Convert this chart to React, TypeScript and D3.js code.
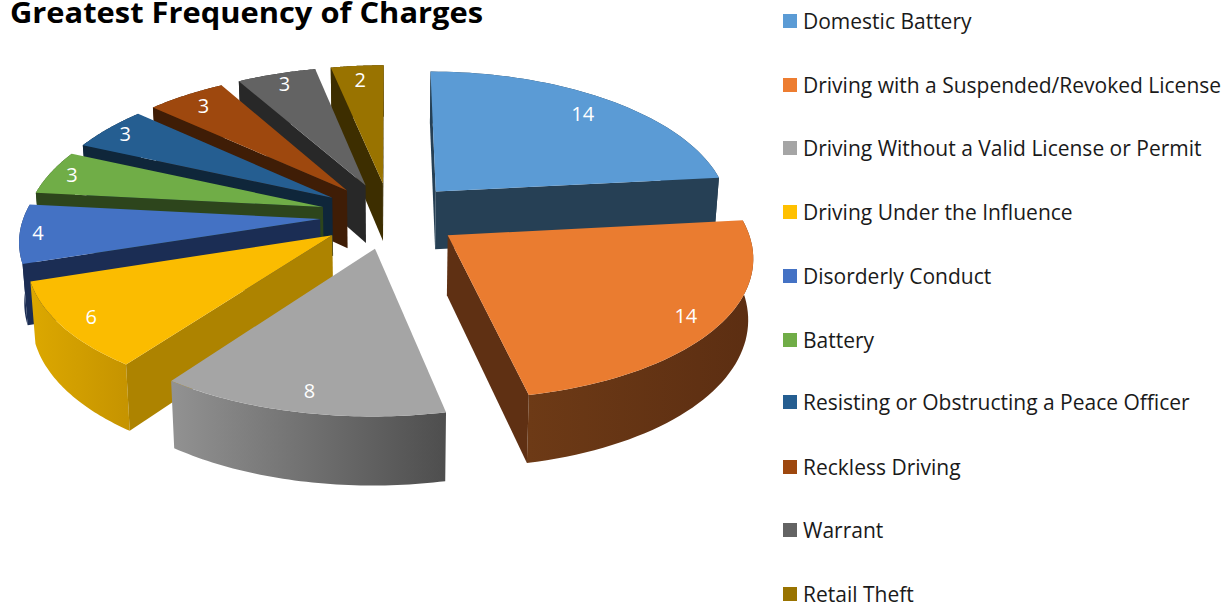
import React from "react";
import * as d3 from "d3";

const categories = [
  "Domestic Battery",
  "Driving with a Suspended/Revoked License",
  "Driving Without a Valid License or Permit",
  "Driving Under the Influence",
  "Disorderly Conduct",
  "Battery",
  "Resisting or Obstructing a Peace Officer",
  "Reckless Driving",
  "Warrant",
  "Retail Theft",
];
const values = [14, 14, 8, 6, 4, 3, 3, 3, 3, 2];
const topColors = ["#5B9BD5", "#EA7C30", "#A5A5A5", "#FBBC00", "#4472C4", "#70AD47", "#255E91", "#9E480E", "#636363", "#997300"];
const legendColors = ["#5B9BD5", "#ED7D31", "#A5A5A5", "#FFC000", "#4472C4", "#70AD47", "#255E91", "#9E480E", "#636363", "#997300"];
const sideColors = ["#264055", "#5F3013", "#4E4E4E", "#AD8300", "#1B2D54", "#2D451C", "#0F263A", "#3F1D06", "#282828", "#3D2E00"];
const rimLeftColors = ["#264055", "#6D3A16", "#929292", "#DCA800", "#1B2D54", "#2D451C", "#0F263A", "#3F1D06", "#282828", "#3D2E00"];
const rimRightColors = ["#264055", "#5C2E12", "#4E4E4E", "#C69400", "#1B2D54", "#2D451C", "#0F263A", "#3F1D06", "#282828", "#3D2E00"];
const labelFractions = [0.84, 0.89, 0.88, 0.9, 0.94, 0.92, 0.92, 0.88, 0.9, 0.87];
const legendRows = [21, 85, 148, 212, 276, 340, 402, 467, 530, 594];
const drawOrder = [9, 8, 7, 6, 5, 4, 3, 2, 0, 1];

const CX = 390, CY = 215.5, RADIUS = 296, EXPLODE = 70, DEPTH = 59;
const TILT = 0.471, PERSP_X = 0.00045, PERSP_Y = 0.0004, TAPER = 0.986;

type Pt = [number, number];
const project = (X: number, Y: number, down = false): Pt => {
  const sx = 1 / (1 - PERSP_X * Y);
  const sy = 1 / (1 - PERSP_Y * Y);
  const x = X * sx;
  const y = CY + TILT * Y * sy;
  return down ? [CX + x * TAPER, y + DEPTH * sy] : [CX + x, y];
};

const pieLayout = d3.pie<number>().sort(null).startAngle(0).endAngle(2 * Math.PI);
const arcs = pieLayout(values);
const closed = d3.line<Pt>().curve(d3.curveLinearClosed);

const wallFaces = (apex: Pt, end: Pt, inner: Pt) => {
  const ex = end[0] - apex[0], ey = end[1] - apex[1];
  const side = ex * (inner[1] - apex[1]) - ey * (inner[0] - apex[0]);
  return side * ex < 0;
};

function sliceGeometry(i: number) {
  const a = arcs[i];
  const mid = (a.startAngle + a.endAngle) / 2;
  const ox = EXPLODE * Math.sin(mid);
  const oy = -EXPLODE * Math.cos(mid);
  const at = (ang: number, r: number, down = false) =>
    project(ox + r * Math.sin(ang), oy - r * Math.cos(ang), down);
  const n = 48;
  const angles = d3.range(n + 1).map((k) => a.startAngle + ((a.endAngle - a.startAngle) * k) / n);
  const rimTop = angles.map((t) => at(t, RADIUS));
  const rimBottom = angles.map((t) => at(t, RADIUS, true));
  const apexTop = project(ox, oy);
  const apexBottom = project(ox, oy, true);
  const inner = rimTop[n >> 1];
  const walls: Pt[][] = [];
  if (wallFaces(apexTop, rimTop[0], inner)) walls.push([apexTop, rimTop[0], rimBottom[0], apexBottom]);
  if (wallFaces(apexTop, rimTop[n], inner)) walls.push([apexTop, rimTop[n], rimBottom[n], apexBottom]);
  return {
    top: [apexTop, ...rimTop] as Pt[],
    outer: [...rimTop, ...[...rimBottom].reverse()] as Pt[],
    walls,
    label: at(mid, RADIUS * labelFractions[i]),
    minX: d3.min(rimTop, (p) => p[0]) as number,
    maxX: d3.max(rimTop, (p) => p[0]) as number,
  };
}

export default function App() {
  const geoms = categories.map((_, i) => sliceGeometry(i));
  return (
    <svg width={1229} height={602} style={{ position: "absolute", left: 0, top: 0, background: "#fff" }}>
      <defs>
        {geoms.map((g, i) => (
          <linearGradient key={i} id={`rim${i}`} gradientUnits="userSpaceOnUse" x1={g.minX} x2={g.maxX} y1={0} y2={0}>
            <stop offset="0" stopColor={rimLeftColors[i]} />
            <stop offset="1" stopColor={rimRightColors[i]} />
          </linearGradient>
        ))}
      </defs>
      <text x={10} y={23} fontFamily="'Open Sans', sans-serif" fontWeight={700} fontSize={29} fill="#000" textLength={473} lengthAdjust="spacingAndGlyphs">
        Greatest Frequency of Charges
      </text>
      {drawOrder.map((i) => {
        const g = geoms[i];
        return (
          <g key={i}>
            <path d={closed(g.outer) as string} fill={`url(#rim${i})`} />
            {g.walls.map((w, k) => (
              <path key={k} d={closed(w) as string} fill={sideColors[i]} />
            ))}
            <path d={closed(g.top) as string} fill={topColors[i]} />
          </g>
        );
      })}
      {values.map((v, i) => (
        <text key={i} x={geoms[i].label[0]} y={geoms[i].label[1]} dy="0.36em" textAnchor="middle" fontFamily="'Open Sans', sans-serif" fontSize={20} fill="#fff">
          {v}
        </text>
      ))}
      {categories.map((c, i) => (
        <g key={c}>
          <rect x={783} y={legendRows[i] - 7} width={14} height={14} fill={legendColors[i]} />
          <text x={803} y={legendRows[i]} dy="0.36em" fontFamily="'Open Sans', sans-serif" fontSize={21} fill="#1a1a1a">
            {c}
          </text>
        </g>
      ))}
    </svg>
  );
}
